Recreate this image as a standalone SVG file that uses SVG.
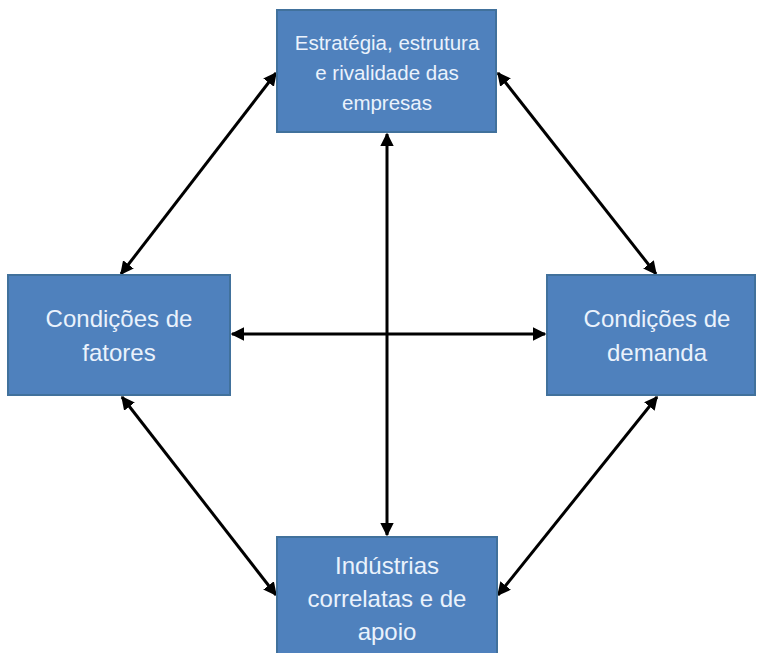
<svg xmlns="http://www.w3.org/2000/svg" width="759" height="653" viewBox="0 0 759 653">
<defs>
<style>
.box{fill:#4F81BD;stroke:#41719C;stroke-width:2}
.lbl{font-family:"Liberation Sans","Open Sans",Arial,sans-serif;fill:#EAF2FC;text-anchor:middle}
.con{stroke:#000;stroke-width:3;fill:none;marker-start:url(#ah);marker-end:url(#ah)}
</style>
<marker id="ah" viewBox="0 0 10 10" refX="9" refY="5" markerWidth="4.5" markerHeight="4.5" orient="auto-start-reverse" markerUnits="strokeWidth">
<path d="M0,0 L10,5 L0,10 Z" fill="#000"/>
</marker>
</defs>
<rect width="759" height="653" fill="#fff"/>
<g id="connectors">
<line class="con" x1="387" y1="134" x2="387" y2="535"/>
<line class="con" x1="232" y1="334" x2="545" y2="334"/>
<line class="con" x1="276" y1="73" x2="121" y2="274"/>
<line class="con" x1="498" y1="73" x2="656" y2="274"/>
<line class="con" x1="122" y1="397" x2="276" y2="595"/>
<line class="con" x1="657" y1="397" x2="498" y2="595"/>
</g>
<g id="estrategia">
<rect class="box" x="277" y="10" width="219" height="122"/>
<text class="lbl" font-size="20.5"><tspan x="387" y="50">Estratégia, estrutura</tspan><tspan x="387" y="80">e rivalidade das</tspan><tspan x="387" y="110">empresas</tspan></text>
</g>
<g id="fatores">
<rect class="box" x="8" y="275" width="222" height="120"/>
<text class="lbl" font-size="24"><tspan x="119" y="327">Condições de</tspan><tspan x="119" y="361">fatores</tspan></text>
</g>
<g id="demanda">
<rect class="box" x="547" y="275" width="208" height="120"/>
<text class="lbl" font-size="24"><tspan x="657" y="327">Condições de</tspan><tspan x="657" y="361">demanda</tspan></text>
</g>
<g id="industrias">
<rect class="box" x="277" y="537" width="220" height="125"/>
<text class="lbl" font-size="24"><tspan x="387" y="574">Indústrias</tspan><tspan x="387" y="607">correlatas e de</tspan><tspan x="387" y="640">apoio</tspan></text>
</g>
</svg>
